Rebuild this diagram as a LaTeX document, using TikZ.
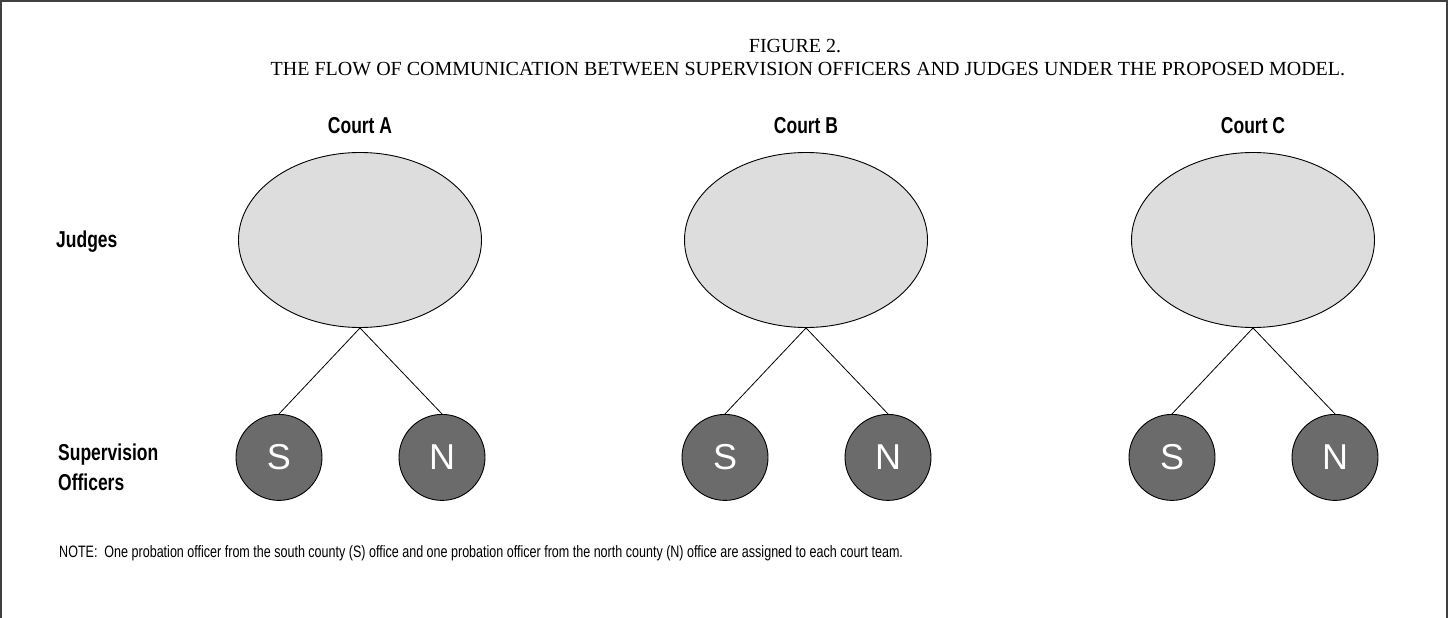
\documentclass[tikz,border=0pt]{standalone}
\usepackage{fontspec}
\setmainfont{Liberation Serif}
\newfontfamily\condfont[FakeStretch=0.76]{Liberation Sans}
\newfontfamily\notefont[FakeStretch=0.76]{Liberation Sans}
\newfontfamily\letterfont{Liberation Sans}
\usetikzlibrary{shapes.geometric, positioning}
\definecolor{judgegray}{RGB}{221,221,221}
\definecolor{officergray}{RGB}{107,107,107}
\tikzset{
    judges/.style={
        ellipse,
        draw=black,
        line width=0.9pt,
        fill=judgegray,
        inner sep=0pt,
        minimum width=243pt,
        minimum height=175pt
    },
    officer/.style={
        circle,
        draw=black,
        line width=0.9pt,
        fill=officergray,
        inner sep=0pt,
        minimum size=86pt,
        text=white,
        font=\letterfont\fontsize{36}{40}\selectfont
    },
    link/.style={
        draw=black,
        line width=0.8pt
    },
    court/.style={
        anchor=base,
        font=\condfont\bfseries\fontsize{23}{28}\selectfont
    },
    rowlabel/.style={
        align=left,
        inner sep=0pt,
        font=\condfont\bfseries\fontsize{23}{30}\selectfont
    },
    title/.style={
        anchor=base,
        inner sep=0pt,
        font=\fontsize{20}{24}\selectfont
    },
    note/.style={
        anchor=base west,
        inner sep=0pt,
        font=\notefont\fontsize{16.5}{20}\selectfont
    }
}
\begin{document}
\begin{tikzpicture}[x=1pt, y=-1pt]

    \useasboundingbox (0,0) rectangle (1451,618);

    % Frame (open at the bottom)
    \draw[line width=2pt, black!75] (1,618) -- (1,1) -- (1447,1) -- (1447,618);

    % Title
    \node[title] (fig) at (795,53) {FIGURE 2.};
    \node[title] (caption) at (808,75) {THE FLOW OF COMMUNICATION BETWEEN SUPERVISION OFFICERS AND JUDGES UNDER THE PROPOSED MODEL.};

    % Row labels
    \node[rowlabel, anchor=base west] (judgelbl) at (56,247) {Judges};
    \node[rowlabel, anchor=west] (offlbl) at (58,467) {Supervision\\Officers};

    % Court A
    \node[court] (ca) at (360,133) {Court A};
    \node[judges] (ja) at (360,240) {};
    \node[officer, below=86pt of ja.south, xshift=-81pt] (sa) {S};
    \node[officer, below=86pt of ja.south, xshift=82pt] (na) {N};

    % Court B
    \node[court] (cb) at (806,133) {Court B};
    \node[judges] (jb) at (806,240) {};
    \node[officer, below=86pt of jb.south, xshift=-81pt] (sb) {S};
    \node[officer, below=86pt of jb.south, xshift=82pt] (nb) {N};

    % Court C
    \node[court] (cc) at (1253,133) {Court C};
    \node[judges] (jc) at (1253,240) {};
    \node[officer, below=86pt of jc.south, xshift=-81pt] (sc) {S};
    \node[officer, below=86pt of jc.south, xshift=82pt] (nc) {N};

    % Links
    \draw[link] (ja.south) -- (sa.north);
    \draw[link] (ja.south) -- (na.north);
    \draw[link] (jb.south) -- (sb.north);
    \draw[link] (jb.south) -- (nb.north);
    \draw[link] (jc.south) -- (sc.north);
    \draw[link] (jc.south) -- (nc.north);

    % Note
    \node[note] (remark) at (59,557) {NOTE:\ \ One probation officer from the south county (S) office and one probation officer from the north county (N) office are assigned to each court team.};

\end{tikzpicture}
\end{document}
